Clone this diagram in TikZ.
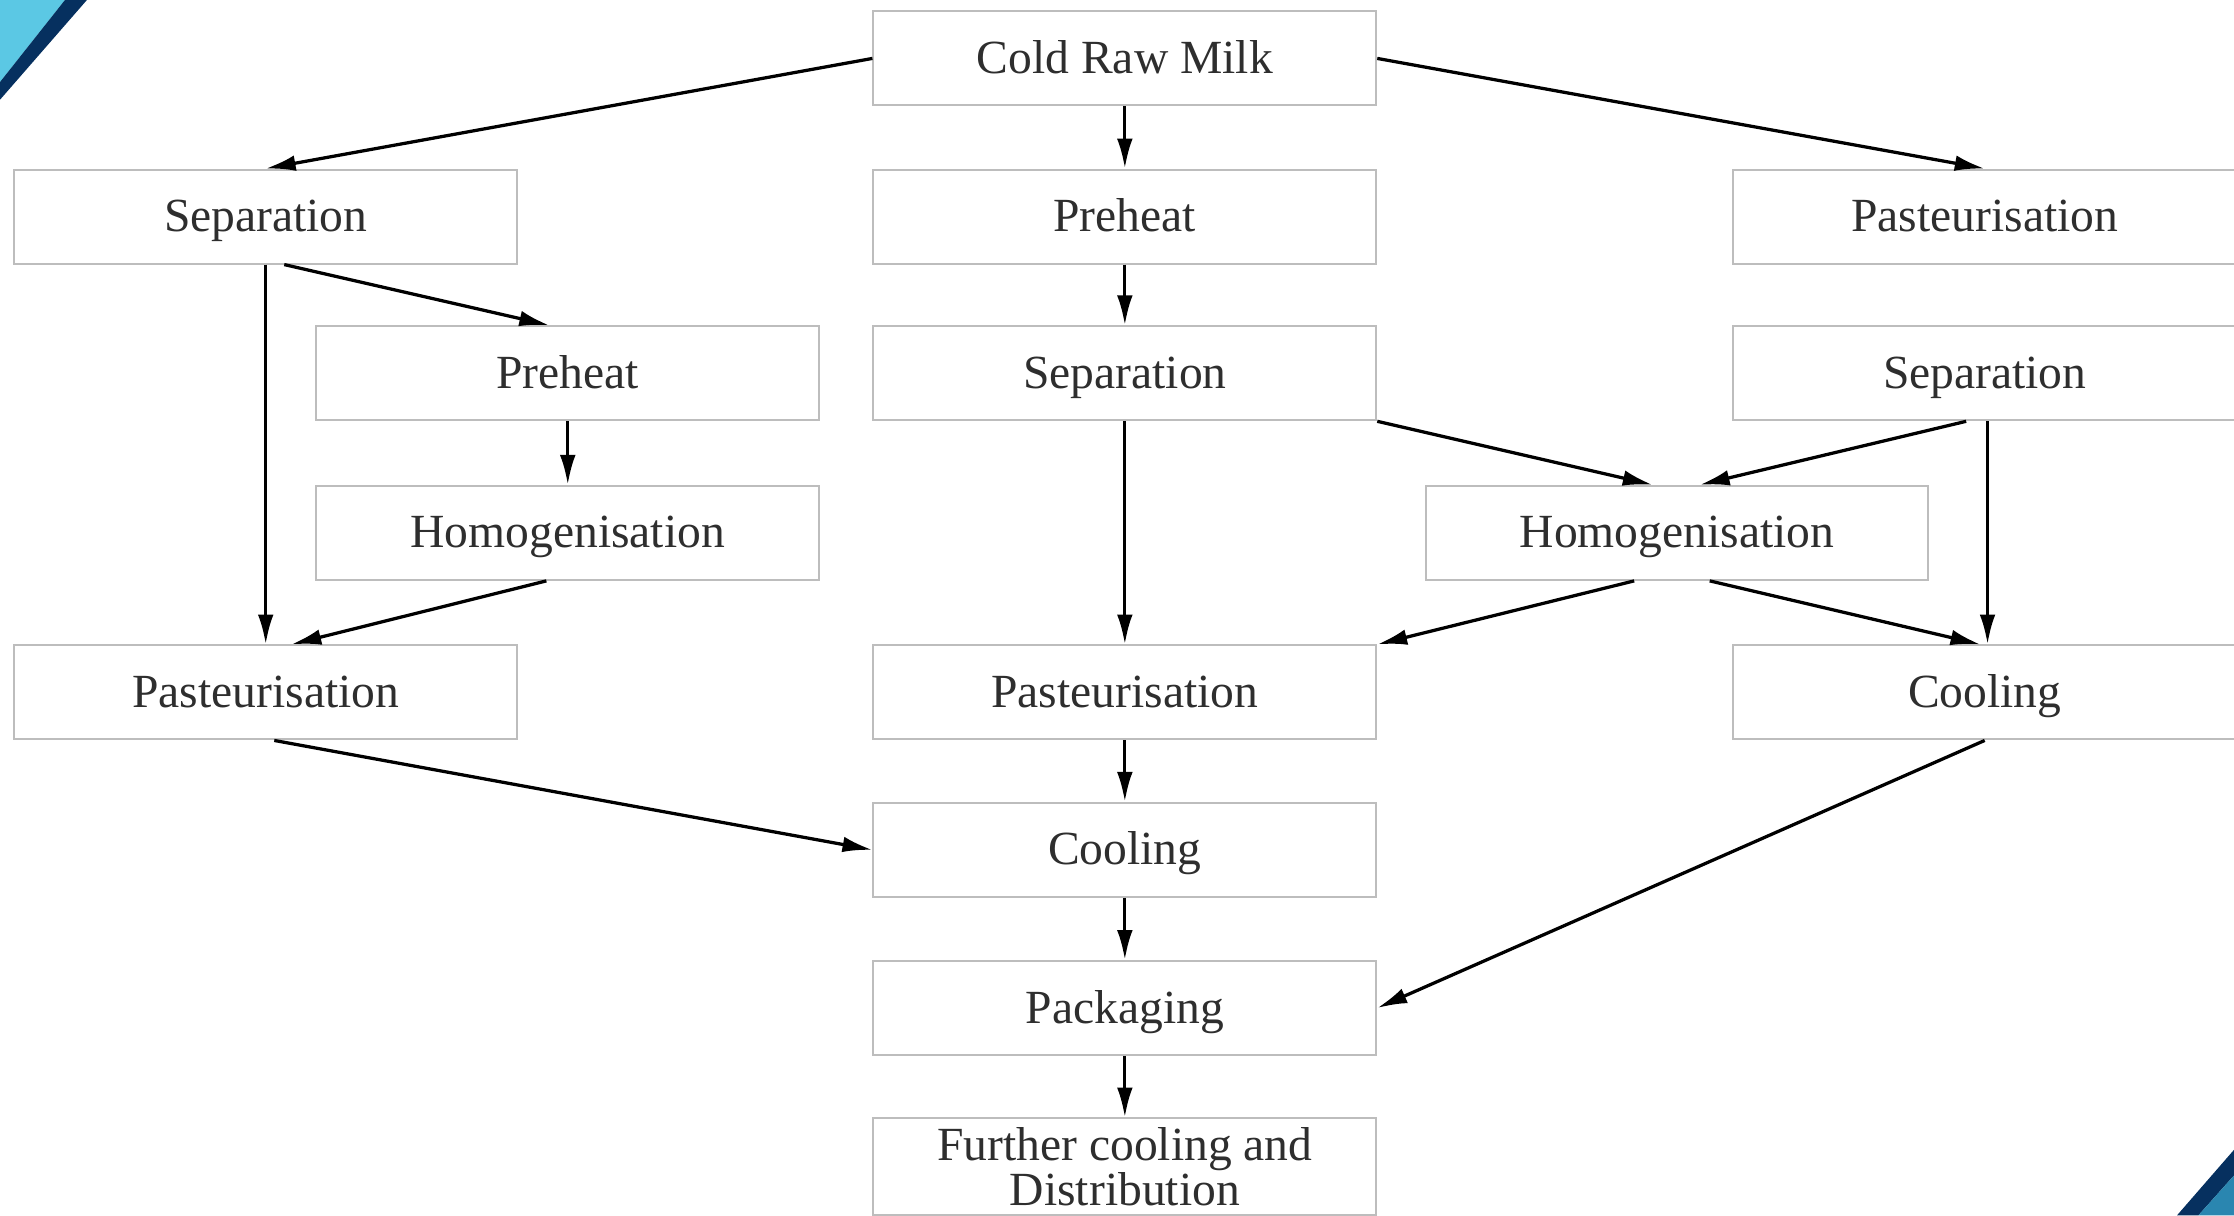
\documentclass[tikz,border=0pt]{standalone}
\usepackage{fontspec}
\setmainfont{Liberation Serif}
\usetikzlibrary{arrows.meta}

\definecolor{boxline}{HTML}{BDBDBD}
\definecolor{textgray}{HTML}{2E2E2E}
\definecolor{skyblue}{HTML}{5BC8E4}
\definecolor{navyband}{HTML}{06305F}
\definecolor{tealblue}{HTML}{2A86B0}

\tikzset{
  stepbox/.style={draw=boxline, line width=0.8pt, fill=white,
    minimum width=7.06cm, minimum height=1.32cm, inner sep=0pt,
    text height=14pt, text depth=2pt,
    text=textgray, font=\fontsize{19}{21}\selectfont, align=center},
  flow/.style={-{Latex[length=0.42cm,width=0.22cm]}, line width=1.3pt, black}
}

\begin{document}
\begin{tikzpicture}[x=0.02cm, y=-0.02cm]

\useasboundingbox (0,0) rectangle (1568,853);

% Coins
\fill[skyblue] (0,0) -- (45.6,0) -- (0,57.6) -- cycle;
\fill[navyband] (45.6,0) -- (61,0) -- (0,70) -- (0,57.6) -- cycle;
\fill[navyband] (1528,853) -- (1568,807) -- (1568,825) -- (1543,853) -- cycle;
\fill[tealblue] (1543,853) -- (1568,825) -- (1568,853) -- cycle;

% Etapes
\node[stepbox] (crm) at (789.5,41) {Cold Raw Milk};

\node[stepbox] (sepL) at (186.5,152) {Separation};
\node[stepbox] (preC) at (789.5,152) {Preheat};
\node[stepbox] (pasR) at (1393,152) {Pasteurisation};

\node[stepbox] (preL) at (398.5,262) {Preheat};
\node[stepbox] (sepC) at (789.5,262) {Separation};
\node[stepbox] (sepR) at (1393,262) {Separation};

\node[stepbox] (homL) at (398.5,374) {Homogenisation};
\node[stepbox] (homR) at (1177,374) {Homogenisation};

\node[stepbox] (pasL) at (186.5,486) {Pasteurisation};
\node[stepbox] (pasC) at (789.5,486) {Pasteurisation};
\node[stepbox] (cooR) at (1393,486) {Cooling};

\node[stepbox] (cooC) at (789.5,596.5) {Cooling};
\node[stepbox] (pack) at (789.5,707.5) {Packaging};
\node[stepbox, minimum height=1.36cm, text height=, text depth=] (fur) at (789.5,819)
  {Further cooling and\\[-3pt]Distribution};

% Fleches
\draw[flow] (crm.west) -- (sepL.north);
\draw[flow] (crm) -- (preC);
\draw[flow] (crm.east) -- (pasR.north);

\draw[flow] (sepL.south) -- (pasL.north);
\draw[flow] ([xshift=0.26cm]sepL.south) -- ([xshift=-0.26cm]preL.north);
\draw[flow] (preL) -- (homL);
\draw[flow] ([xshift=-0.3cm]homL.south) -- ([xshift=0.36cm]pasL.north);

\draw[flow] (preC) -- (sepC);
\draw[flow] (sepC) -- (pasC);
\draw[flow] (sepC.south east) -- ([xshift=-0.34cm]homR.north);
\draw[flow] ([xshift=-0.26cm]sepR.south) -- ([xshift=0.32cm]homR.north);
\draw[flow] ([xshift=0.04cm]sepR.south) -- ([xshift=0.04cm]cooR.north);
\draw[flow] ([xshift=-0.6cm]homR.south) -- (pasC.north east);
\draw[flow] ([xshift=0.46cm]homR.south) -- ([xshift=-0.06cm]cooR.north);

\draw[flow] ([xshift=0.12cm]pasL.south) -- (cooC.west);
\draw[flow] (pasC) -- (cooC);
\draw[flow] (cooC) -- (pack);
\draw[flow] (cooR.south) -- (pack.east);
\draw[flow] (pack) -- (fur);

\end{tikzpicture}
\end{document}
